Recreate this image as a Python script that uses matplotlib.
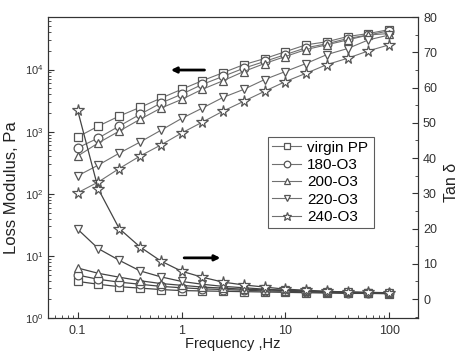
import matplotlib
matplotlib.use('Agg')
import matplotlib.pyplot as plt
from matplotlib.ticker import MultipleLocator, LogLocator, NullFormatter

plt.rcParams['font.family'] = ['Liberation Sans', 'DejaVu Sans']

# 频率 (Hz)
freq = [0.1, 0.158, 0.251, 0.398, 0.631, 1.0, 1.58, 2.51, 3.98, 6.31,
        10, 15.8, 25.1, 39.8, 63.1, 100]

labels = ['virgin PP', '180-O3', '200-O3', '220-O3', '240-O3']
markers = ['s', 'o', '^', 'v', '*']

# 损耗模量 (Pa)
loss_virgin = [820, 1230, 1780, 2460, 3450, 4800, 6600, 8900, 12000, 15000, 19400, 25000, 28000, 34000, 38000, 44000]
loss_180 = [550, 790, 1230, 1900, 2880, 4000, 5750, 7760, 10500, 13500, 17400, 22400, 26000, 31600, 36000, 42000]
loss_200 = [405, 660, 1020, 1580, 2390, 3300, 4800, 6600, 9300, 12500, 16200, 21000, 25000, 30000, 36000, 38000]
loss_220 = [195, 290, 450, 680, 1050, 1630, 2390, 3560, 4800, 6900, 9300, 12500, 17400, 21800, 30000, 36000]
loss_240 = [104, 155, 255, 405, 610, 950, 1420, 2140, 3090, 4470, 6400, 8700, 12000, 15200, 20000, 25000]

# Tan delta
tan_virgin = [5.0, 4.2, 3.5, 3.1, 2.7, 2.4, 2.3, 2.2, 2.1, 2.0, 1.9, 1.8, 1.7, 1.6, 1.6, 1.5]
tan_180 = [6.8, 5.6, 4.8, 4.2, 3.6, 3.2, 2.9, 2.7, 2.5, 2.3, 2.2, 2.0, 1.9, 1.8, 1.7, 1.6]
tan_200 = [8.8, 7.3, 6.2, 5.2, 4.4, 3.9, 3.4, 3.1, 2.8, 2.6, 2.4, 2.2, 2.0, 1.9, 1.8, 1.7]
tan_220 = [19.8, 14.3, 11.0, 8.0, 6.3, 5.0, 4.2, 3.6, 3.2, 2.8, 2.5, 2.3, 2.1, 2.0, 1.8, 1.7]
tan_240 = [53.5, 31.2, 20.0, 14.8, 10.8, 7.9, 6.2, 4.8, 4.0, 3.4, 2.8, 2.5, 2.2, 2.0, 1.9, 1.8]

loss_all = [loss_virgin, loss_180, loss_200, loss_220, loss_240]
tan_all = [tan_virgin, tan_180, tan_200, tan_220, tan_240]

gray = '#707070'
fig = plt.figure(figsize=(4.59, 3.55), dpi=100)
ax = fig.add_axes([0.105, 0.104, 0.806, 0.848])
ax2 = ax.twinx()

handles = []
for i in range(5):
    ms = 8.5 if markers[i] == '*' else 6.3
    h, = ax.plot(freq, loss_all[i], color=gray, lw=0.8, marker=markers[i], ms=ms,
                 mfc='white', mec='#555555', mew=0.9, label=labels[i])
    ax2.plot(freq, tan_all[i], color='#444444', lw=0.9, marker=markers[i], ms=ms,
             mfc='white', mec='#555555', mew=0.9)
    handles.append(h)

ax.set_xscale('log')
ax.set_yscale('log')
ax.set_xlim(0.052, 190)
ax.set_ylim(1, 7e4)
ax2.set_ylim(-5.4, 80)

ax.set_xticks([0.1, 1, 10, 100])
ax.set_xticklabels(['0.1', '1', '10', '100'])
ax.xaxis.set_minor_locator(LogLocator(base=10, subs=range(2, 10)))
ax.xaxis.set_minor_formatter(NullFormatter())
ax.yaxis.set_minor_locator(LogLocator(base=10, subs=range(2, 10)))
ax.yaxis.set_minor_formatter(NullFormatter())
ax.set_yticks([1, 10, 100, 1000, 10000])
ax2.yaxis.set_major_locator(MultipleLocator(10))
ax2.yaxis.set_minor_locator(MultipleLocator(5))

ax.tick_params(which='both', direction='in', top=False, colors='#333333')
ax.tick_params(axis='x', labelsize=9, pad=5)
ax.tick_params(axis='y', labelsize=8)
ax.tick_params(which='major', length=4)
ax.tick_params(which='minor', length=2)
ax2.tick_params(which='both', direction='in', labelsize=9, colors='#333333')
ax2.tick_params(which='major', length=4)
ax2.tick_params(which='minor', length=2)
for a in (ax, ax2):
    for s in a.spines.values():
        s.set_color('#333333')

ax.set_xlabel('Frequency ,Hz', fontsize=10.5, color='#222222', va='top')
ax.xaxis.set_label_coords(0.5, -0.062)
ax.set_ylabel('Loss Modulus, Pa', fontsize=12, color='#222222')
ax.yaxis.set_label_coords(-0.08, 0.435)
ax2.set_ylabel('Tan δ', fontsize=11.5, color='#222222', va='center')
ax2.yaxis.set_label_coords(1.09, 0.45)

leg = ax.legend(handles=handles, loc='lower left', bbox_to_anchor=(0.595, 0.30, 0.285, 0.33),
                mode='expand', fontsize=11, frameon=True, fancybox=False, markerscale=0.75,
                handlelength=1.9, handletextpad=0.4, borderpad=0.25, labelspacing=0.22,
                borderaxespad=0)
leg.get_frame().set_edgecolor('#333333')
leg.get_frame().set_linewidth(0.8)

# 箭头
ax.annotate('', xy=(0.324, 0.824), xytext=(0.43, 0.824), xycoords='axes fraction',
            arrowprops=dict(arrowstyle='-|>', color='black', lw=2, mutation_scale=8))
ax.annotate('', xy=(0.473, 0.2), xytext=(0.36, 0.2), xycoords='axes fraction',
            arrowprops=dict(arrowstyle='-|>', color='black', lw=2, mutation_scale=8))

fig.savefig('out.png', dpi=100)
